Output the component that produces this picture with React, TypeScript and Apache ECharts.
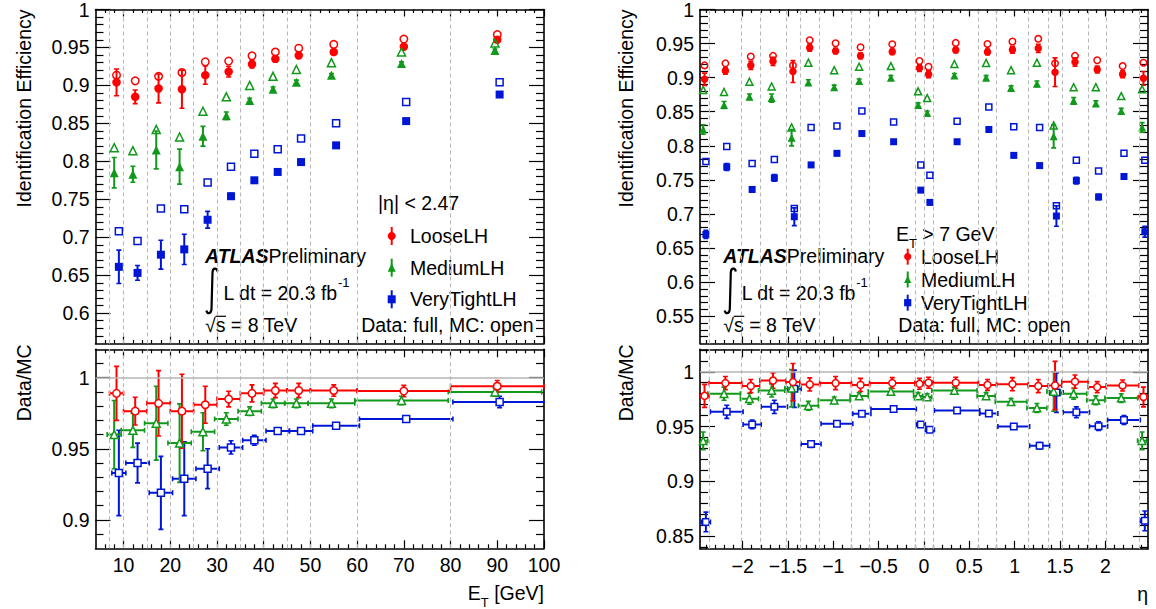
import React, { useEffect, useRef } from "react";
import * as echarts from "echarts";

// ================= LEFT: efficiency vs E_T =================
const etBinCenter = [8.5, 12.5, 17.5, 22.5, 27.5, 32.5, 37.5, 42.5, 47.5, 55, 70, 90];
const etBinLow = [7, 10, 15, 20, 25, 30, 35, 40, 45, 50, 60, 80];
const etBinHigh = [10, 15, 20, 25, 30, 35, 40, 45, 50, 60, 80, 100];
const etDivisions = [7, 10, 15, 20, 25, 30, 35, 40, 45, 50, 60, 80];
const etTickLabels = [10, 20, 30, 40, 50, 60, 70, 80, 90, 100];
const etEffTickLabels = [0.6, 0.65, 0.7, 0.75, 0.8, 0.85, 0.9, 0.95, 1];
const etRatioTickLabels = [0.9, 0.95, 1];

const etLooseData = [0.904, 0.885, 0.896, 0.895, 0.9135, 0.918, 0.928, 0.935, 0.9395, 0.944, 0.951, 0.96];
const etLooseDataErr = [0.0176, 0.009, 0.019, 0.025, 0.012, 0.007, 0.005, 0.004, 0.004, 0.003, 0.003, 0.003];
const etLooseMC = [0.9135, 0.906, 0.912, 0.917, 0.931, 0.932, 0.939, 0.944, 0.949, 0.954, 0.961, 0.967];
const etMediumData = [0.785, 0.783, 0.815, 0.793, 0.833, 0.86, 0.88, 0.895, 0.904, 0.9135, 0.929, 0.946];
const etMediumDataErr = [0.02, 0.0106, 0.025, 0.023, 0.013, 0.005, 0.003, 0.003, 0.003, 0.002, 0.002, 0.002];
const etMediumMC = [0.818, 0.814, 0.842, 0.832, 0.866, 0.885, 0.9, 0.912, 0.921, 0.93, 0.944, 0.956];
const etTightData = [0.661, 0.653, 0.677, 0.684, 0.723, 0.754, 0.775, 0.786, 0.799, 0.821, 0.853, 0.888];
const etTightDataErr = [0.022, 0.0097, 0.019, 0.02, 0.011, 0.004, 0.003, 0.003, 0.002, 0.002, 0.002, 0.002];
const etTightMC = [0.708, 0.695, 0.738, 0.737, 0.772, 0.793, 0.81, 0.816, 0.83, 0.85, 0.878, 0.904];

const etLooseRatio = [0.989, 0.9765, 0.982, 0.9765, 0.981, 0.985, 0.989, 0.991, 0.991, 0.991, 0.9906, 0.994];
const etLooseRatioErr = [0.019, 0.0098, 0.023, 0.026, 0.013, 0.0055, 0.006, 0.005, 0.005, 0.004, 0.004, 0.004];
const etMediumRatio = [0.96, 0.963, 0.968, 0.954, 0.962, 0.971, 0.9765, 0.982, 0.982, 0.982, 0.984, 0.99];
const etMediumRatioErr = [0.024, 0.012, 0.026, 0.0276, 0.0134, 0.0044, 0.003, 0.003, 0.003, 0.003, 0.003, 0.003];
const etTightRatio = [0.933, 0.94, 0.919, 0.929, 0.936, 0.951, 0.956, 0.9626, 0.9626, 0.9663, 0.971, 0.983];
const etTightRatioErr = [0.03, 0.014, 0.0257, 0.026, 0.014, 0.0047, 0.0035, 0.002, 0.002, 0.002, 0.002, 0.004];

// ================= RIGHT: efficiency vs eta =================
const etaBinCenter = [-2.42, -2.19, -1.91, -1.665, -1.445, -1.26, -0.975, -0.7, -0.35, -0.05, 0.05, 0.35, 0.7, 0.975, 1.26, 1.445, 1.665, 1.91, 2.19, 2.42];
const etaBinLow = [-2.47, -2.37, -2.01, -1.81, -1.52, -1.37, -1.15, -0.8, -0.6, -0.1, 0, 0.1, 0.6, 0.8, 1.15, 1.37, 1.52, 1.81, 2.01, 2.37];
const etaBinHigh = [-2.37, -2.01, -1.81, -1.52, -1.37, -1.15, -0.8, -0.6, -0.1, 0, 0.1, 0.6, 0.8, 1.15, 1.37, 1.52, 1.81, 2.01, 2.37, 2.47];
const etaDivisions = [-2.37, -2.01, -1.81, -1.52, -1.37, -1.15, -0.8, -0.6, -0.1, 0, 0.1, 0.6, 0.8, 1.15, 1.37, 1.52, 1.81, 2.01, 2.37];
const etaTickLabels = [-2, -1.5, -1, -0.5, 0, 0.5, 1, 1.5, 2];
const etaEffTickLabels = [0.55, 0.6, 0.65, 0.7, 0.75, 0.8, 0.85, 0.9, 0.95, 1];
const etaRatioTickLabels = [0.85, 0.9, 0.95, 1];

const etaLooseData = [0.8976, 0.91, 0.918, 0.924, 0.909, 0.944, 0.939, 0.932, 0.938, 0.914, 0.905, 0.9407, 0.9378, 0.941, 0.943, 0.908, 0.923, 0.912, 0.905, 0.899];
const etaLooseDataErr = [0.009, 0.005, 0.006, 0.006, 0.016, 0.005, 0.004, 0.004, 0.004, 0.005, 0.005, 0.004, 0.004, 0.005, 0.006, 0.021, 0.006, 0.005, 0.005, 0.01];
const etaLooseMC = [0.918, 0.921, 0.931, 0.932, 0.918, 0.955, 0.9505, 0.9446, 0.949, 0.9245, 0.916, 0.951, 0.9495, 0.953, 0.957, 0.921, 0.932, 0.9255, 0.917, 0.922];
const etaMediumData = [0.824, 0.86, 0.872, 0.87, 0.812, 0.893, 0.886, 0.895, 0.9, 0.86, 0.848, 0.903, 0.9, 0.885, 0.891, 0.814, 0.866, 0.862, 0.851, 0.827];
const etaMediumDataErr = [0.007, 0.005, 0.004, 0.006, 0.012, 0.004, 0.003, 0.003, 0.003, 0.003, 0.003, 0.003, 0.003, 0.003, 0.004, 0.017, 0.005, 0.004, 0.004, 0.007];
const etaMediumMC = [0.882, 0.879, 0.894, 0.887, 0.827, 0.922, 0.911, 0.916, 0.917, 0.88, 0.87, 0.92, 0.9216, 0.911, 0.922, 0.83, 0.886, 0.886, 0.873, 0.883];
const etaTightData = [0.67, 0.769, 0.736, 0.753, 0.696, 0.772, 0.789, 0.818, 0.806, 0.735, 0.717, 0.806, 0.824, 0.786, 0.771, 0.697, 0.749, 0.725, 0.755, 0.674];
const etaTightDataErr = [0.006, 0.005, 0.004, 0.005, 0.013, 0.003, 0.003, 0.003, 0.003, 0.003, 0.003, 0.003, 0.003, 0.003, 0.003, 0.015, 0.005, 0.004, 0.004, 0.008];
const etaTightMC = [0.777, 0.799, 0.774, 0.78, 0.708, 0.827, 0.829, 0.851, 0.835, 0.772, 0.757, 0.836, 0.857, 0.828, 0.827, 0.712, 0.779, 0.763, 0.789, 0.779];

const etaLooseRatio = [0.978, 0.9897, 0.987, 0.992, 0.9906, 0.9884, 0.9897, 0.988, 0.9897, 0.989, 0.99, 0.99, 0.988, 0.9887, 0.987, 0.9875, 0.991, 0.986, 0.9875, 0.977];
const etaLooseRatioErr = [0.0105, 0.006, 0.006, 0.007, 0.017, 0.006, 0.006, 0.006, 0.005, 0.005, 0.005, 0.005, 0.005, 0.006, 0.006, 0.022, 0.006, 0.005, 0.005, 0.009];
const etaMediumRatio = [0.937, 0.98, 0.9754, 0.983, 0.985, 0.969, 0.974, 0.978, 0.982, 0.978, 0.977, 0.983, 0.978, 0.9726, 0.967, 0.982, 0.98, 0.974, 0.976, 0.937];
const etaMediumRatioErr = [0.008, 0.006, 0.005, 0.006, 0.017, 0.004, 0.003, 0.003, 0.003, 0.003, 0.003, 0.003, 0.003, 0.003, 0.004, 0.018, 0.005, 0.004, 0.004, 0.008];
const etaTightRatio = [0.863, 0.9635, 0.952, 0.968, 0.9845, 0.934, 0.9525, 0.9617, 0.966, 0.952, 0.947, 0.9647, 0.962, 0.95, 0.9325, 0.981, 0.963, 0.9504, 0.956, 0.864];
const etaTightRatioErr = [0.009, 0.006, 0.004, 0.006, 0.017, 0.003, 0.002, 0.002, 0.002, 0.002, 0.002, 0.002, 0.002, 0.002, 0.003, 0.018, 0.005, 0.004, 0.004, 0.009];

// ================= style =================
const FONT = '"Liberation Sans", Arial, Helvetica, sans-serif';
const FS = 19.5;
const RED = "#ff0000";
const GREEN = "#10991a";
const BLUE = "#0016d6";

echarts.graphic.registerShape(
  "integralSign",
  echarts.graphic.extendPath("M11.5,4 C11,0.3 6.8,-0.2 6.5,5 L5.5,41.5 C5.2,46.8 1,46.8 0.4,43", {})
);

function ticksBetween(from: number, to: number, step: number, skip: number[]): number[] {
  const out: number[] = [];
  const n0 = Math.round(from / step);
  const n1 = Math.round(to / step);
  for (let k = n0; k <= n1; k++) {
    const v = Math.round(k * step * 10000) / 10000;
    if (!skip.some((s) => Math.abs(s - v) < 1e-6)) out.push(v);
  }
  return out;
}

interface PanelDef {
  rect: { left: number; top: number; width: number; height: number };
  xRange: [number, number];
  yRange: [number, number];
  xMajor: number[];
  xMinor: number[];
  yMajor: number[];
  yMinor: number[];
  xTickLen: [number, number];
  yTickLen: [number, number];
  showXLabels: boolean;
  xName?: string;
  yName: string;
  yNameGap: number;
  yNamePad: number;
}

const minusFmt = (v: number) => String(v).replace("-", "\u2212");

function buildAxes(p: PanelDef, gridIndex: number) {
  const common = {
    type: "value",
    gridIndex,
    splitLine: { show: false },
    minorTick: { show: false },
    minorSplitLine: { show: false },
    silent: true,
  };
  const xs: any[] = [];
  const ys: any[] = [];
  const sides: Array<[string, boolean]> = [
    ["A", true],
    ["A", false],
    ["B", true],
    ["B", false],
  ];
  for (const [side, major] of sides) {
    const primary = side === "A" && major;
    xs.push({
      ...common,
      position: side === "A" ? "bottom" : "top",
      min: p.xRange[0],
      max: p.xRange[1],
      axisLine: { show: major, onZero: false, lineStyle: { color: "#000", width: 1.6 } },
      axisTick: {
        show: true,
        inside: true,
        length: major ? p.xTickLen[0] : p.xTickLen[1],
        customValues: major ? p.xMajor : p.xMinor,
        lineStyle: { color: "#000", width: 1.2 },
      },
      axisLabel:
        primary && p.showXLabels
          ? {
              show: true,
              customValues: p.xMajor,
              formatter: minusFmt,
              fontSize: FS,
              fontFamily: FONT,
              color: "#000",
              margin: 7,
            }
          : { show: false },
      name: primary ? p.xName : undefined,
      nameLocation: "end",
      nameGap: 0,
      nameTextStyle: {
        align: "right",
        verticalAlign: "top",
        padding: [29, 0, 0, 0],
        rich: {
          n: { fontSize: FS, fontFamily: FONT, color: "#000", lineHeight: 32, verticalAlign: "middle" },
          s: { fontSize: 13, fontFamily: FONT, color: "#000", lineHeight: 14, verticalAlign: "bottom" },
        },
      },
    });
    ys.push({
      ...common,
      position: side === "A" ? "left" : "right",
      min: p.yRange[0],
      max: p.yRange[1],
      axisLine: { show: major, onZero: false, lineStyle: { color: "#000", width: 1.6 } },
      axisTick: {
        show: true,
        inside: true,
        length: major ? p.yTickLen[0] : p.yTickLen[1],
        customValues: major ? p.yMajor : p.yMinor,
        lineStyle: { color: "#000", width: 1.2 },
      },
      axisLabel: primary
        ? {
            show: true,
            customValues: p.yMajor,
            formatter: (v: number) => String(v),
            fontSize: FS,
            fontFamily: FONT,
            color: "#000",
            margin: 6,
          }
        : { show: false },
      name: primary ? p.yName : undefined,
      nameLocation: "end",
      nameRotate: 90,
      nameGap: p.yNameGap,
      nameTextStyle: {
        align: "right",
        verticalAlign: "bottom",
        fontSize: FS,
        fontFamily: FONT,
        color: "#000",
        padding: [0, 0, p.yNamePad, 0],
      },
    });
  }
  return { xs, ys };
}

function errorBarSeries(color: string, xi: number, yi: number, data: number[][], withX: boolean) {
  return {
    type: "custom",
    xAxisIndex: xi,
    yAxisIndex: yi,
    z: 3,
    silent: true,
    clip: true,
    encode: { x: 0, y: 1 },
    data,
    renderItem: (_params: any, api: any) => {
      const x = api.value(0);
      const y = api.value(1);
      const e = api.value(2);
      const lo = api.coord([x, y - e]);
      const hi = api.coord([x, y + e]);
      const st = { stroke: color, lineWidth: 2 };
      const cs = { stroke: color, lineWidth: 1.6 };
      const cap = 2.5;
      const ch: any[] = [
        { type: "line", shape: { x1: lo[0], y1: lo[1], x2: hi[0], y2: hi[1] }, style: st },
        { type: "line", shape: { x1: lo[0] - cap, y1: lo[1], x2: lo[0] + cap, y2: lo[1] }, style: cs },
        { type: "line", shape: { x1: hi[0] - cap, y1: hi[1], x2: hi[0] + cap, y2: hi[1] }, style: cs },
      ];
      if (withX) {
        const l = api.coord([api.value(3), y]);
        const r = api.coord([api.value(4), y]);
        ch.push({ type: "line", shape: { x1: l[0], y1: l[1], x2: r[0], y2: r[1] }, style: st });
        ch.push({ type: "line", shape: { x1: l[0], y1: l[1] - cap, x2: l[0], y2: l[1] + cap }, style: cs });
        ch.push({ type: "line", shape: { x1: r[0], y1: r[1] - cap, x2: r[0], y2: r[1] + cap }, style: cs });
      }
      return { type: "group", children: ch };
    },
  };
}

function markerSeries(color: string, symbol: string, size: number, xi: number, yi: number, data: number[][], filled: boolean, whiteFill: boolean, z: number) {
  return {
    type: "scatter",
    xAxisIndex: xi,
    yAxisIndex: yi,
    symbol,
    symbolSize: size,
    z,
    silent: true,
    itemStyle: filled
      ? { color, opacity: 1 }
      : { color: whiteFill ? "#ffffff" : "rgba(255,255,255,0)", borderColor: color, borderWidth: 1.5, opacity: 1 },
    emphasis: { disabled: true },
    data,
  };
}

function divisionSeries(xi: number, yi: number, edges: number[], unityLine: boolean) {
  const d: any[] = edges.map((v) => ({ xAxis: v }));
  if (unityLine) d.push({ yAxis: 1, lineStyle: { type: "solid", color: "#b4b4b4", width: 1.6 } });
  return {
    type: "scatter",
    xAxisIndex: xi,
    yAxisIndex: yi,
    data: [],
    z: 1,
    silent: true,
    markLine: {
      silent: true,
      animation: false,
      symbol: ["none", "none"],
      label: { show: false },
      lineStyle: { color: "#b8b8b8", type: [4, 3], width: 1.1 },
      emphasis: { disabled: true },
      data: d,
    },
  };
}

interface Cat {
  color: string;
  symbol: string;
  data: number[];
  dataErr: number[];
  mc: number[];
  ratio: number[];
  ratioErr: number[];
  shift: number;
}

function buildOption() {
  const panels: PanelDef[] = [
    {
      rect: { left: 95.5, top: 9.5, width: 448.5, height: 334 },
      xRange: [4, 100],
      yRange: [0.56, 1],
      xMajor: etTickLabels,
      xMinor: ticksBetween(6, 98, 2, etTickLabels),
      yMajor: etEffTickLabels,
      yMinor: ticksBetween(0.57, 0.99, 0.01, etEffTickLabels),
      xTickLen: [7, 3.5],
      yTickLen: [15, 8],
      showXLabels: false,
      yName: "Identification Efficiency",
      yNameGap: 0,
      yNamePad: 62,
    },
    {
      rect: { left: 95.5, top: 349.3, width: 448.5, height: 199 },
      xRange: [4, 100],
      yRange: [0.88, 1.02],
      xMajor: etTickLabels,
      xMinor: ticksBetween(6, 98, 2, etTickLabels),
      yMajor: etRatioTickLabels,
      yMinor: ticksBetween(0.89, 1.01, 0.01, etRatioTickLabels),
      xTickLen: [8, 4],
      yTickLen: [15, 8],
      showXLabels: true,
      xName: "{n|E}{s|T}{n| [GeV]}",
      yName: "Data/MC",
      yNameGap: 5,
      yNamePad: 62,
    },
    {
      rect: { left: 700, top: 9.5, width: 448, height: 334 },
      xRange: [-2.47, 2.47],
      yRange: [0.51, 1],
      xMajor: etaTickLabels,
      xMinor: ticksBetween(-2.4, 2.4, 0.1, etaTickLabels),
      yMajor: etaEffTickLabels,
      yMinor: ticksBetween(0.52, 0.99, 0.01, etaEffTickLabels),
      xTickLen: [7, 3.5],
      yTickLen: [15, 8],
      showXLabels: false,
      yName: "Identification Efficiency",
      yNameGap: 0,
      yNamePad: 64,
    },
    {
      rect: { left: 700, top: 349.3, width: 448, height: 199.5 },
      xRange: [-2.47, 2.47],
      yRange: [0.8385, 1.0205],
      xMajor: etaTickLabels,
      xMinor: ticksBetween(-2.4, 2.4, 0.1, etaTickLabels),
      yMajor: etaRatioTickLabels,
      yMinor: ticksBetween(0.84, 1.02, 0.01, etaRatioTickLabels),
      xTickLen: [8, 4],
      yTickLen: [15, 8],
      showXLabels: true,
      xName: "{n|\u03B7}",
      yName: "Data/MC",
      yNameGap: 5,
      yNamePad: 64,
    },
  ];

  const grids: any[] = [];
  const xAxes: any[] = [];
  const yAxes: any[] = [];
  panels.forEach((p, i) => {
    grids.push({ ...p.rect, containLabel: false, outerBoundsMode: "none", show: false });
    const { xs, ys } = buildAxes(p, i);
    xAxes.push(...xs);
    yAxes.push(...ys);
  });

  const etCats: Cat[] = [
    { color: BLUE, symbol: "rect", data: etTightData, dataErr: etTightDataErr, mc: etTightMC, ratio: etTightRatio, ratioErr: etTightRatioErr, shift: 0.5 },
    { color: GREEN, symbol: "triangle", data: etMediumData, dataErr: etMediumDataErr, mc: etMediumMC, ratio: etMediumRatio, ratioErr: etMediumRatioErr, shift: -0.5 },
    { color: RED, symbol: "circle", data: etLooseData, dataErr: etLooseDataErr, mc: etLooseMC, ratio: etLooseRatio, ratioErr: etLooseRatioErr, shift: 0 },
  ];
  const etaCats: Cat[] = [
    { color: BLUE, symbol: "rect", data: etaTightData, dataErr: etaTightDataErr, mc: etaTightMC, ratio: etaTightRatio, ratioErr: etaTightRatioErr, shift: 0.015 },
    { color: GREEN, symbol: "triangle", data: etaMediumData, dataErr: etaMediumDataErr, mc: etaMediumMC, ratio: etaMediumRatio, ratioErr: etaMediumRatioErr, shift: -0.015 },
    { color: RED, symbol: "circle", data: etaLooseData, dataErr: etaLooseDataErr, mc: etaLooseMC, ratio: etaLooseRatio, ratioErr: etaLooseRatioErr, shift: 0 },
  ];

  const series: any[] = [];
  const addPanelPair = (topIdx: number, botIdx: number, centers: number[], lows: number[], highs: number[], edges: number[], cats: Cat[], msTop: number, msBot: number) => {
    const xt = topIdx * 4;
    const xb = botIdx * 4;
    series.push(divisionSeries(xt, xt, edges, false));
    series.push(divisionSeries(xb, xb, edges, true));
    cats.forEach((c) => {
      const xs = centers.map((v) => v + c.shift);
      const symSize = (base: number) => (c.symbol === "triangle" ? base + 0.5 : c.symbol === "rect" ? base - 0.5 : base);
      series.push(errorBarSeries(c.color, xt, xt, xs.map((x, i) => [x, c.data[i], c.dataErr[i]]), false));
      series.push(markerSeries(c.color, c.symbol, symSize(msTop), xt, xt, xs.map((x, i) => [x, c.data[i]]), true, false, 4));
      series.push(markerSeries(c.color, c.symbol, symSize(msTop - 1), xt, xt, xs.map((x, i) => [x, c.mc[i]]), false, false, 5));
      series.push(
        errorBarSeries(
          c.color,
          xb,
          xb,
          xs.map((x, i) => [x, c.ratio[i], c.ratioErr[i], lows[i] + c.shift, highs[i] + c.shift]),
          true
        )
      );
      series.push(markerSeries(c.color, c.symbol, symSize(msBot), xb, xb, xs.map((x, i) => [x, c.ratio[i]]), false, true, 4));
    });
  };
  addPanelPair(0, 1, etBinCenter, etBinLow, etBinHigh, etDivisions, etCats, 8.5, 7.5);
  addPanelPair(2, 3, etaBinCenter, etaBinLow, etaBinHigh, etaDivisions, etaCats, 7.5, 7);

  // ---------- annotations ----------
  const T = (x: number, y: number, text: string, align = "left", extra: any = {}) => ({
    type: "text",
    x,
    y,
    silent: true,
    style: { text, fill: "#000", fontFamily: FONT, fontSize: FS, align, verticalAlign: "middle", ...extra },
  });
  const richBase = { fontFamily: FONT, fontSize: FS, fill: "#000" };
  const atlasBlock = (x0: number) => [
    {
      type: "text",
      x: x0,
      y: 256,
      silent: true,
      style: {
        text: "{a|ATLAS}{b|Preliminary}",
        align: "left",
        verticalAlign: "middle",
        rich: {
          a: { ...richBase, fontWeight: "bold", fontStyle: "italic" },
          b: { ...richBase },
        },
      },
    },
    { type: "integralSign", x: x0 + 1, y: 267.5, silent: true, style: { fill: "none", stroke: "#000", lineWidth: 2.2 } },
    {
      type: "text",
      x: x0 + 18.5,
      y: 293,
      silent: true,
      style: {
        text: "{n|L dt = 20.3 fb}{p|-1}",
        align: "left",
        verticalAlign: "middle",
        rich: {
          n: { ...richBase, lineHeight: 34, verticalAlign: "middle" },
          p: { ...richBase, fontSize: 13, lineHeight: 14, verticalAlign: "top" },
        },
      },
    },
    T(x0, 325, "\u221As = 8 TeV"),
    { type: "line", silent: true, shape: { x1: x0 + 10.5, y1: 316.3, x2: x0 + 21, y2: 316.3 }, style: { stroke: "#000", lineWidth: 1.2 } },
  ];
  const legendRows = (mx: number, tx: number, ys: number[], r: number, bar: number) => [
    { type: "line", silent: true, shape: { x1: mx, y1: ys[0] - bar, x2: mx, y2: ys[0] + bar }, style: { stroke: RED, lineWidth: 2 } },
    { type: "circle", silent: true, shape: { cx: mx, cy: ys[0], r }, style: { fill: RED } },
    T(tx, ys[0], "LooseLH"),
    { type: "line", silent: true, shape: { x1: mx, y1: ys[1] - bar, x2: mx, y2: ys[1] + bar }, style: { stroke: GREEN, lineWidth: 2 } },
    {
      type: "polygon",
      silent: true,
      shape: { points: [[mx, ys[1] - r - 0.5], [mx - r, ys[1] + r], [mx + r, ys[1] + r]] },
      style: { fill: GREEN },
    },
    T(tx, ys[1], "MediumLH"),
    { type: "line", silent: true, shape: { x1: mx, y1: ys[2] - bar, x2: mx, y2: ys[2] + bar }, style: { stroke: BLUE, lineWidth: 2 } },
    { type: "rect", silent: true, shape: { x: mx - r, y: ys[2] - r, width: 2 * r, height: 2 * r }, style: { fill: BLUE } },
    T(tx, ys[2], "VeryTightLH"),
  ];

  const graphics: any[] = [
    // left panel
    T(378, 203, "|\u03B7| < 2.47"),
    ...legendRows(391.7, 410, [236, 267.7, 299.3], 4, 9),
    ...atlasBlock(205),
    T(533.5, 325, "Data: full, MC: open", "right"),
    // right panel
    {
      type: "text",
      x: 896,
      y: 234,
      silent: true,
      style: {
        text: "{n|E}{s|T}{n| > 7 GeV}",
        align: "left",
        verticalAlign: "middle",
        rich: {
          n: { ...richBase, lineHeight: 32, verticalAlign: "middle" },
          s: { ...richBase, fontSize: 13, lineHeight: 14, verticalAlign: "bottom" },
        },
      },
    },
    ...legendRows(907.7, 921, [256.7, 279.5, 302.7], 3.6, 8),
    ...atlasBlock(723.3),
    T(898.3, 325, "Data: full, MC: open"),
  ];

  return {
    animation: false,
    backgroundColor: "#ffffff",
    textStyle: { fontFamily: FONT },
    grid: grids,
    xAxis: xAxes,
    yAxis: yAxes,
    series,
    graphic: { elements: graphics },
  };
}

export default function App() {
  const ref = useRef<HTMLDivElement>(null);
  useEffect(() => {
    if (!ref.current) return;
    const chart = echarts.init(ref.current, undefined, { renderer: "svg" });
    chart.setOption(buildOption() as any);
    return () => {
      chart.dispose();
    };
  }, []);
  return (
    <div
      ref={ref}
      style={{ position: "fixed", left: 0, top: 0, width: 1156, height: 609, background: "#ffffff" }}
    />
  );
}
